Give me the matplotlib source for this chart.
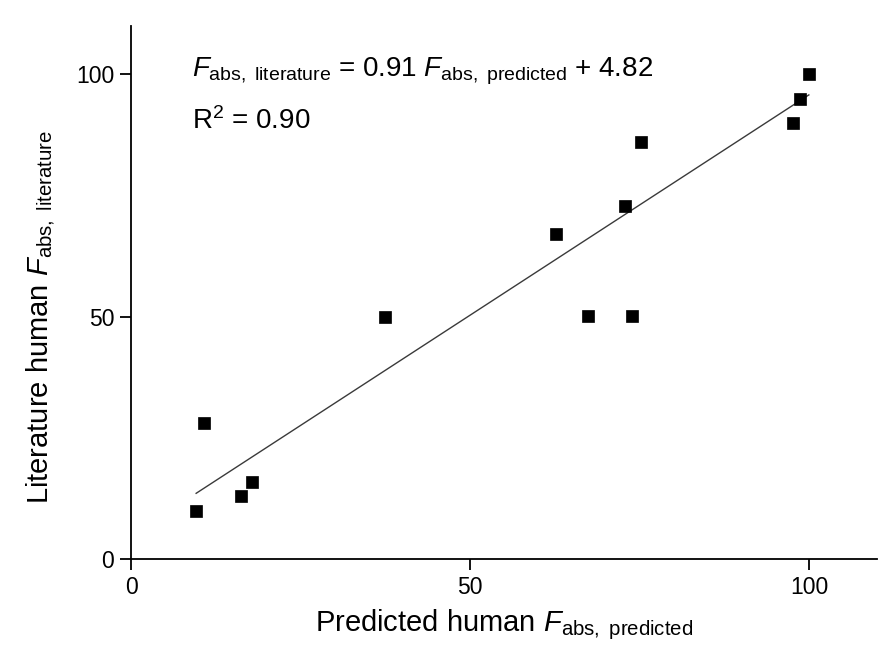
import matplotlib
matplotlib.use("Agg")
import matplotlib.pyplot as plt
import numpy as np

plt.rcParams['font.family'] = ['Liberation Sans', 'DejaVu Sans']
plt.rcParams['mathtext.fontset'] = 'custom'
plt.rcParams['mathtext.rm'] = 'Liberation Sans'
plt.rcParams['mathtext.it'] = 'Liberation Sans:italic'
plt.rcParams['mathtext.bf'] = 'Liberation Sans:bold'

# Data
predicted = [9.6, 10.7, 16.2, 17.9, 37.5, 62.6, 67.4, 72.9, 73.8, 75.2, 97.6, 98.7, 99.95]
literature = [10.0, 28.0, 12.9, 15.9, 50.0, 67.0, 50.1, 72.9, 50.1, 86.0, 90.0, 95.0, 100.0]
slope = 0.91
intercept = 4.82
r_squared = 0.90
ticks = [0, 50, 100]

fig = plt.figure(figsize=(8.83, 6.61), dpi=100)
ax = fig.add_axes([0.1484, 0.1543, 0.8448, 0.8064])

xfit = np.array([min(predicted), max(predicted)])
ax.plot(xfit, slope * xfit + intercept, color='#3a3a3a', lw=1.0, zorder=2)
ax.plot(predicted, literature, linestyle='none', marker='s', markersize=9,
        color='black', markeredgewidth=0.5, zorder=3)

ax.set_xlim(0, 110)
ax.set_ylim(0, 110)
ax.set_xticks(ticks)
ax.set_yticks(ticks)
ax.tick_params(direction='out', length=8, width=1.3, labelsize=16.5, pad=4)
for s in ['top', 'right']:
    ax.spines[s].set_visible(False)
for s in ['left', 'bottom']:
    ax.spines[s].set_linewidth(1.3)

ax.set_xlabel(r'Predicted human $\mathit{F}_{\mathrm{abs,\ predicted}}$', fontsize=21, labelpad=6)
ax.set_ylabel(r'Literature human $\mathit{F}_{\mathrm{abs,\ literature}}$', fontsize=21, labelpad=14)
ax.yaxis.label.set_y(0.455)

ax.text(9.0, 99.6,
        r'$\mathit{F}_{\mathrm{abs,\ literature}}$ = %.2f $\mathit{F}_{\mathrm{abs,\ predicted}}$ + %.2f' % (slope, intercept),
        fontsize=20, va='baseline', ha='left')
ax.text(9.0, 88.8, r'R$^{2}$ = %.2f' % r_squared, fontsize=20, va='baseline', ha='left')

fig.savefig('out.png', dpi=100, facecolor='white')
